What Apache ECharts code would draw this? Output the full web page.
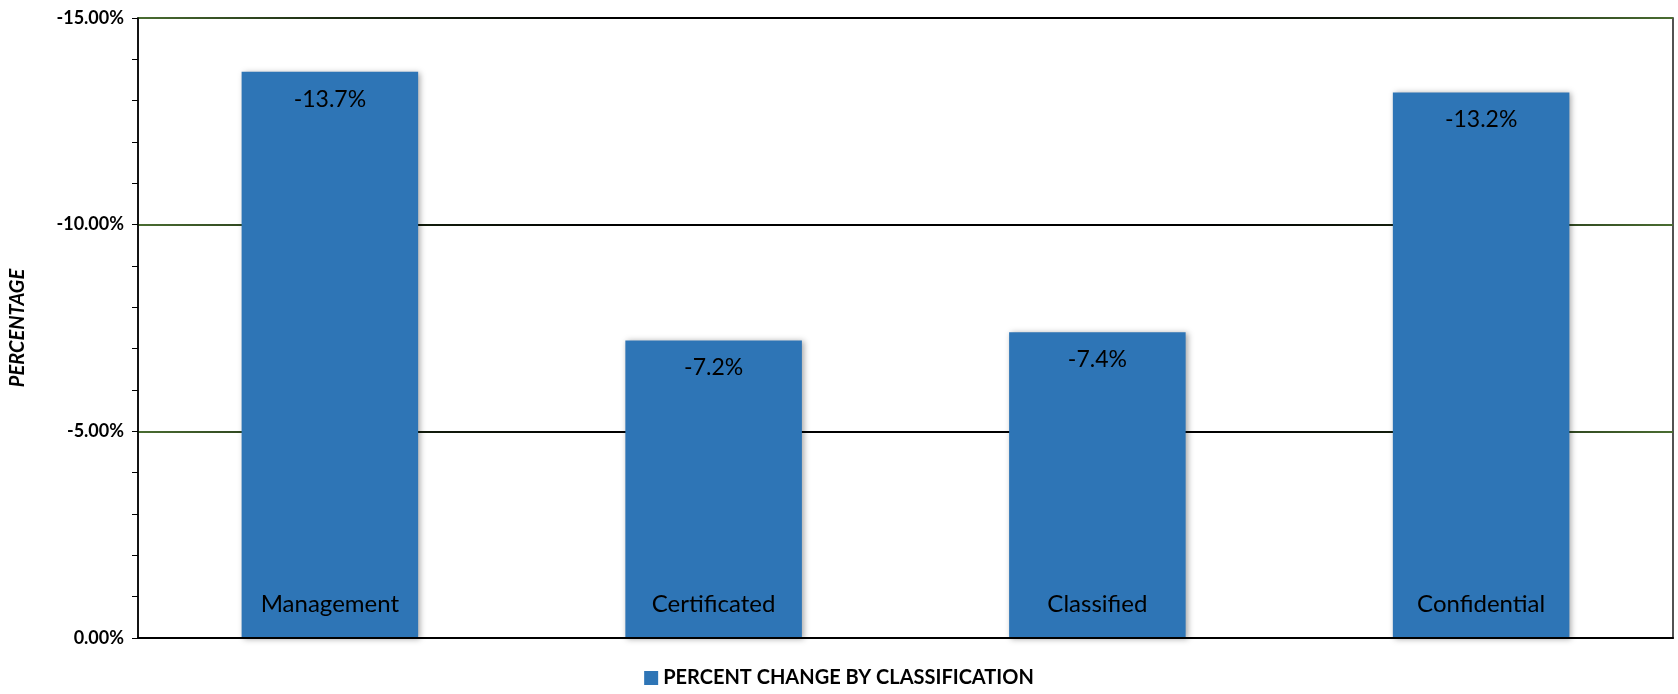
<!DOCTYPE html>
<html>
<head>
<meta charset="utf-8">
<script src="https://cdn.jsdelivr.net/npm/echarts@6/dist/echarts.min.js"></script>
<style>
html,body{margin:0;padding:0;background:#fff;}
#chart{width:1678px;height:694px;}
</style>
</head>
<body>
<div id="chart"></div>
<script>
const categories = ['Management', 'Certificated', 'Classified', 'Confidential'];
const values = [-13.7, -7.2, -7.4, -13.2];
const seriesName = 'PERCENT CHANGE BY CLASSIFICATION';
const yAxisName = 'PERCENTAGE';

const FONT = 'Lato, "Open Sans", sans-serif';
const gridGradient = new echarts.graphic.LinearGradient(0, 0, 1, 0, [
  {offset: 0, color: '#4b6e32'},
  {offset: 0.12, color: '#1e2e14'},
  {offset: 0.3, color: '#000'},
  {offset: 0.7, color: '#000'},
  {offset: 0.88, color: '#1e2e14'},
  {offset: 1, color: '#4b6e32'}
]);

const chart = echarts.init(document.getElementById('chart'), null, {renderer: 'canvas'});
chart.setOption({
  animation: false,
  backgroundColor: '#fff',
  grid: {left: 138, right: 5, top: 18, bottom: 56, containLabel: false,
    show: true, borderColor: '#1a1a1a', borderWidth: 1.5},
  legend: {
    bottom: 1, left: 'center',
    itemWidth: 14, itemHeight: 14, itemGap: 6,
    textStyle: {fontFamily: FONT, fontWeight: 'bold', fontSize: 20, color: '#000'},
    data: [{name: seriesName, icon: 'rect'}]
  },
  xAxis: {
    type: 'category',
    data: categories,
    axisLine: {show: true, lineStyle: {color: '#000', width: 2}},
    axisTick: {show: false},
    axisLabel: {inside: true, margin: 22, color: '#000', fontFamily: FONT, fontSize: 24},
    z: 10
  },
  yAxis: {
    type: 'value',
    inverse: true,
    min: -15, max: 0, interval: 5,
    name: yAxisName,
    nameLocation: 'middle',
    nameRotate: 90,
    nameGap: 110,
    nameTextStyle: {fontFamily: FONT, fontWeight: 'bold', fontStyle: 'italic', fontSize: 20, color: '#000'},
    axisLine: {show: true, lineStyle: {color: '#000', width: 1.5}},
    axisTick: {show: true, length: 6, lineStyle: {color: '#000'}},
    minorTick: {show: true, splitNumber: 5, length: 6, lineStyle: {color: '#000'}},
    axisLabel: {formatter: v => v.toFixed(2) + '%', margin: 14, color: '#000',
      fontFamily: FONT, fontWeight: 'bold', fontSize: 18},
    splitLine: {show: true, lineStyle: {color: gridGradient, width: 2}}
  },
  series: [{
    name: seriesName,
    type: 'bar',
    data: values,
    barWidth: '46%',
    itemStyle: {color: '#2e75b6', shadowBlur: 6, shadowColor: 'rgba(0,0,0,0.35)', shadowOffsetX: 2, shadowOffsetY: 1},
    label: {show: true, position: 'insideTop', distance: 16, color: '#000',
      fontFamily: FONT, fontSize: 23, formatter: p => p.value.toFixed(1) + '%'}
  }]
});
</script>
</body>
</html>
